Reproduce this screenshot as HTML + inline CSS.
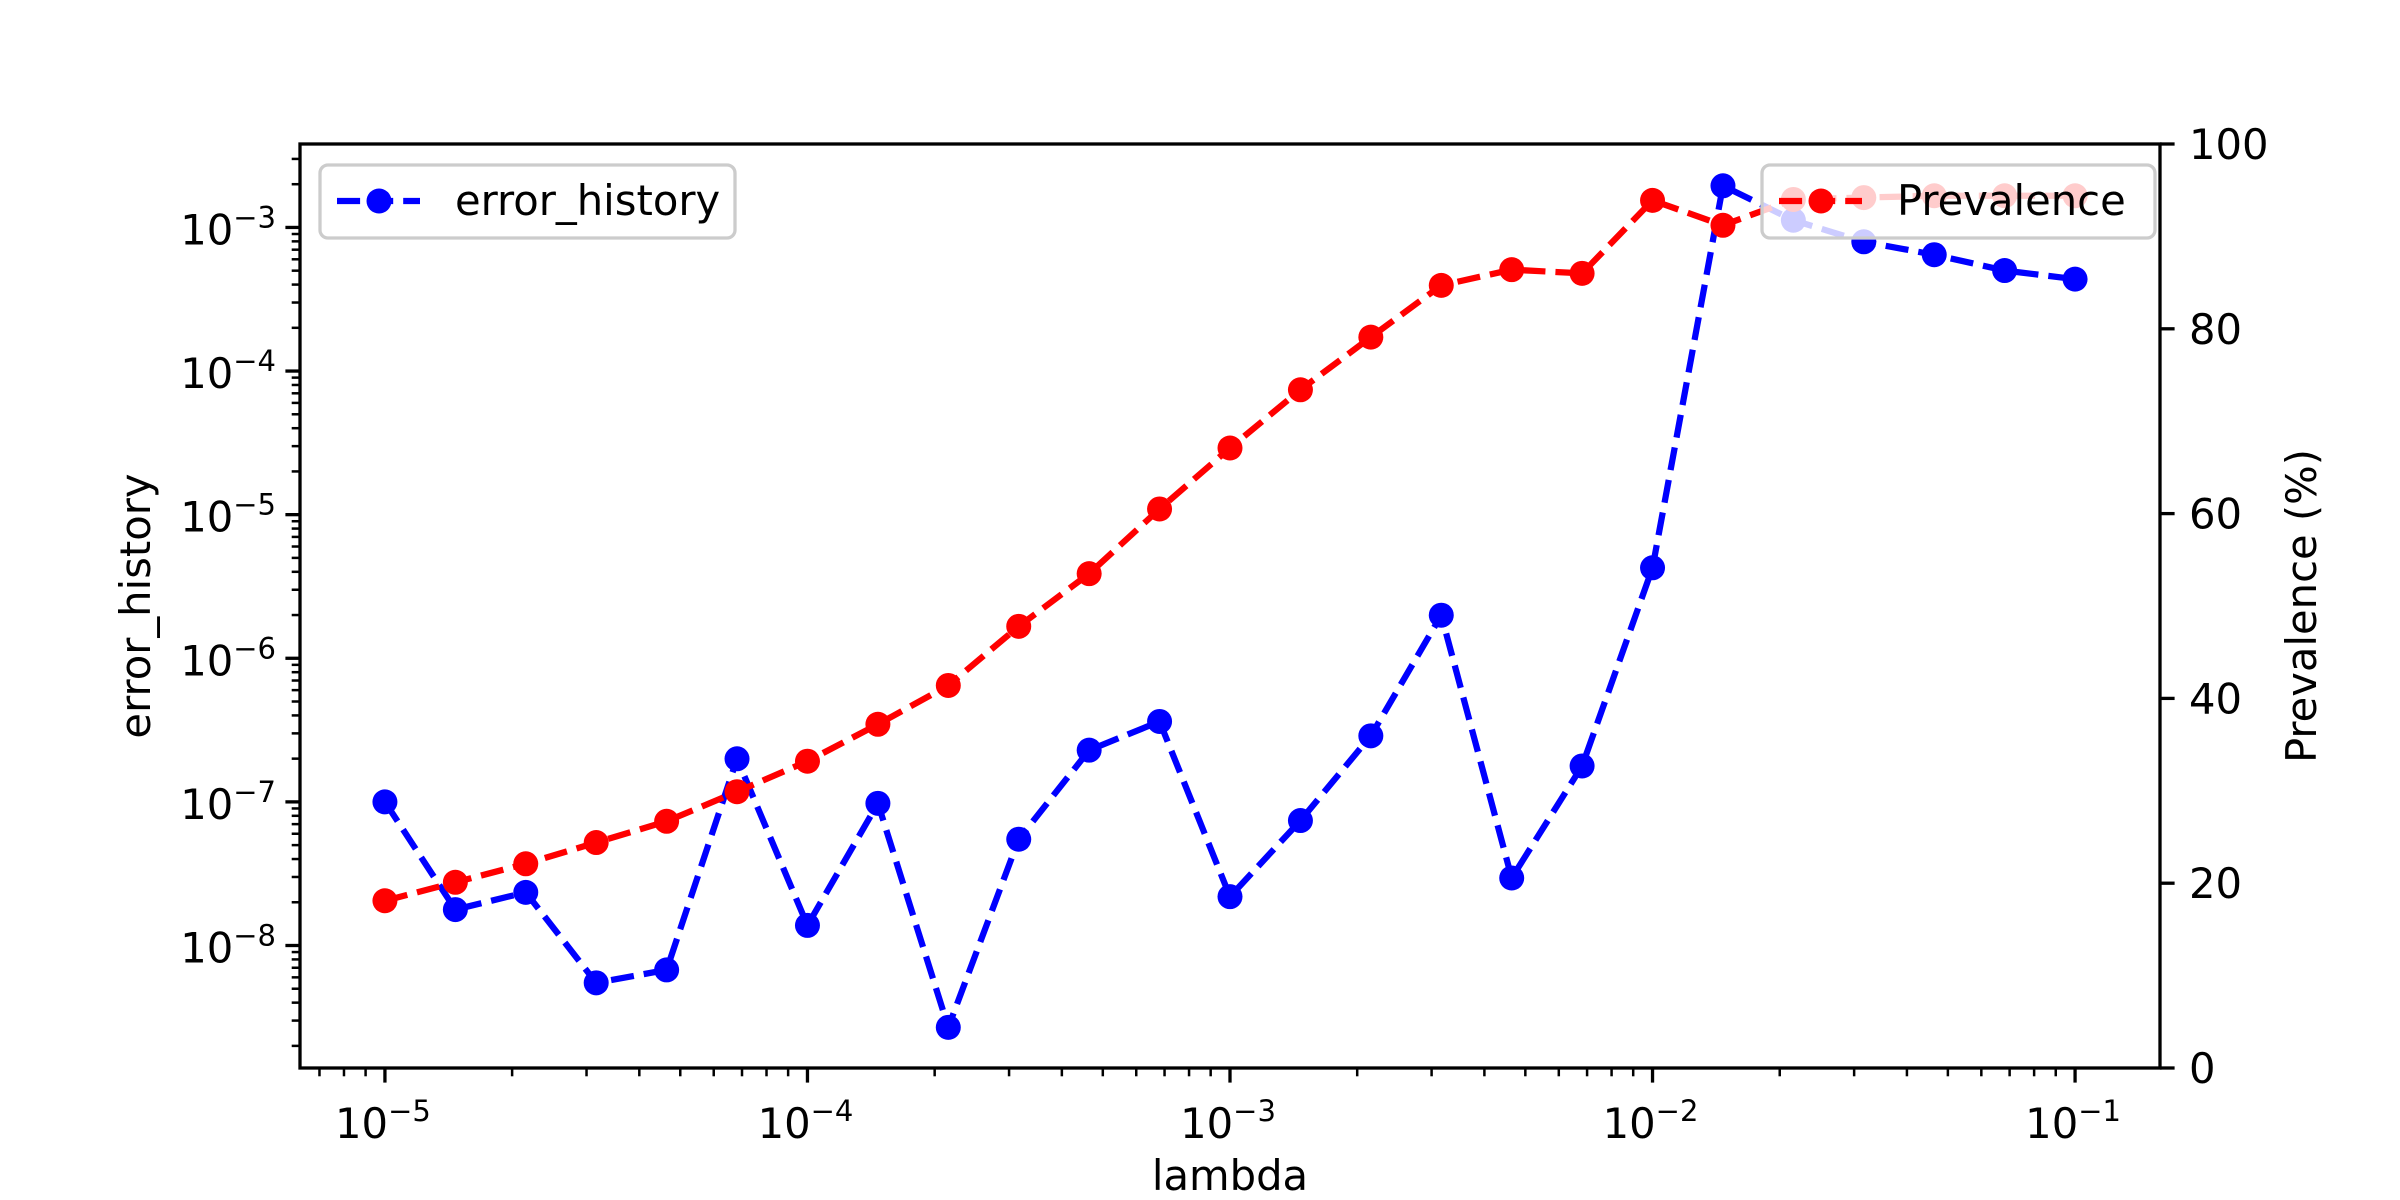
<!DOCTYPE html>
<html><head><meta charset="utf-8">
<style>
html,body{margin:0;padding:0;background:#fff;}
svg{display:block;font-family:"DejaVu Sans","Liberation Sans",sans-serif;}
</style></head>
<body>
<svg id="chart" width="2400" height="1200" viewBox="0 0 2400 1200" xmlns="http://www.w3.org/2000/svg">
<rect width="2400" height="1200" fill="#fff"/>
<g id="blueLayer"></g>
<g id="redLayer"></g>
<g id="axes"></g>
<g id="legends"></g>
</svg>
<script>
const lambdaExp = [-5,-4.8333,-4.6667,-4.5,-4.3333,-4.1667,-4,-3.8333,-3.6667,-3.5,-3.3333,-3.1667,-3,-2.8333,-2.6667,-2.5,-2.3333,-2.1667,-2,-1.8333,-1.6667,-1.5,-1.3333,-1.1667,-1];
const errorLog = [-7.0,-7.75,-7.63,-8.26,-8.17,-6.70,-7.86,-7.01,-8.57,-7.26,-6.64,-6.44,-7.66,-7.13,-6.54,-5.70,-7.53,-6.75,-5.37,-2.71,-2.95,-3.10,-3.19,-3.30,-3.36];
const prevalence = [18.1,20.1,22.1,24.4,26.7,29.9,33.2,37.2,41.4,47.8,53.5,60.5,67.1,73.4,79.1,84.7,86.4,86.0,93.9,91.2,94.0,94.2,94.4,94.4,94.4];
const xTickExp = [-5,-4,-3,-2,-1];
const yTickExp = [-8,-7,-6,-5,-4,-3];
const y2Ticks = [0,20,40,60,80,100];

const NS='http://www.w3.org/2000/svg';
const L=300,R=2160,T=144,B=1068;
const xMin=-5.201,xMax=-0.799,yMin=-8.853,yMax=-2.419;
const xs=e=>L+(e-xMin)/(xMax-xMin)*(R-L);
const ys=e=>B-(e-yMin)/(yMax-yMin)*(B-T);
const y2s=v=>B-v/100*(B-T);
function mk(tag,attrs,parent){const el=document.createElementNS(NS,tag);for(const k in attrs)el.setAttribute(k,attrs[k]);parent.appendChild(el);return el;}
const blue=document.getElementById('blueLayer'),red=document.getElementById('redLayer'),axes=document.getElementById('axes'),leg=document.getElementById('legends');
const DASH='23.1,10';
let pb=lambdaExp.map((e,i)=>xs(e)+','+ys(errorLog[i])).join(' ');
let bl=mk('polyline',{points:pb,fill:'none',stroke:'#0000ff','stroke-width':6.25,'stroke-dasharray':DASH},blue);


lambdaExp.forEach((e,i)=>{const c=mk('circle',{cx:xs(e),cy:ys(errorLog[i]),r:12.5,fill:'#0000ff'},blue);

});
let pr=lambdaExp.map((e,i)=>xs(e)+','+y2s(prevalence[i])).join(' ');
let rl=mk('polyline',{points:pr,fill:'none',stroke:'#ff0000','stroke-width':6.25,'stroke-dasharray':DASH},red);


lambdaExp.forEach((e,i)=>{const c=mk('circle',{cx:xs(e),cy:y2s(prevalence[i]),r:12.5,fill:'#ff0000'},red);

});
mk('rect',{x:L,y:T,width:R-L,height:B-T,fill:'none',stroke:'#000','stroke-width':3.3},axes);
const FS=41.7;
function sciLabel(x,y,exp,anchor,parent,name){
  const t=mk('text',{x:x,y:y,'font-size':FS,'text-anchor':anchor,fill:'#000'},parent);
  
  
  const a=mk('tspan',{},t);a.textContent='10';
  const b=mk('tspan',{dy:-17,'font-size':29}, t);b.textContent='\u2212'+Math.abs(exp);
  return t;
}
xTickExp.forEach(e=>{const x=xs(e);mk('line',{x1:x,x2:x,y1:B,y2:B+14.6,stroke:'#000','stroke-width':3.3},axes);
  sciLabel(x-2,B+70,e,'middle',axes,'x-tick-label');});
for(let d=-6;d<=-1;d++){for(let m=2;m<=9;m++){const e=d+Math.log10(m);if(e<xMin||e>xMax)continue;const x=xs(e);
  mk('line',{x1:x,x2:x,y1:B,y2:B+8.3,stroke:'#000','stroke-width':2.5},axes);}}
yTickExp.forEach(e=>{const y=ys(e);mk('line',{x1:L,x2:L-14.6,y1:y,y2:y,stroke:'#000','stroke-width':3.3},axes);
  sciLabel(L-24,y+17,e,'end',axes,'y-tick-label');});
for(let d=-9;d<=-3;d++){for(let m=2;m<=9;m++){const e=d+Math.log10(m);if(e<yMin||e>yMax)continue;const y=ys(e);
  mk('line',{x1:L,x2:L-8.3,y1:y,y2:y,stroke:'#000','stroke-width':2.5},axes);}}
y2Ticks.forEach(v=>{const y=y2s(v);mk('line',{x1:R,x2:R+14.6,y1:y,y2:y,stroke:'#000','stroke-width':3.3},axes);
  const t=mk('text',{x:R+29,y:y+15,'font-size':FS,fill:'#000'},axes);t.textContent=v;
  
  });
let xt=mk('text',{x:(L+R)/2,y:1190,'font-size':FS,'text-anchor':'middle'},axes);xt.textContent='lambda';


let yt=mk('text',{x:0,y:0,'font-size':FS,'text-anchor':'middle',transform:'translate(150,606) rotate(-90)'},axes);yt.textContent='error_history';


let y2t=mk('text',{x:0,y:0,'font-size':FS,'text-anchor':'middle',transform:'translate(2316,606) rotate(-90)'},axes);y2t.textContent='Prevalence (%)';


function legend(x,w,color,label,name){
  const g=mk('g',{},leg);
  
  
  mk('rect',{x:x,y:165,width:w,height:73,rx:8,fill:'#fff','fill-opacity':0.8,stroke:'#cccccc','stroke-width':3.3},g);
  mk('line',{x1:x+17,x2:x+100,y1:201,y2:201,stroke:color,'stroke-width':6.25,'stroke-dasharray':DASH},g);
  mk('circle',{cx:x+59,cy:201,r:12.5,fill:color},g);
  const t=mk('text',{x:x+135,y:215,'font-size':FS},g);t.textContent=label;
}
legend(320,415,'#0000ff','error_history','legend-error-history');
legend(1762,393,'#ff0000','Prevalence','legend-prevalence');
</script>
</body></html>
